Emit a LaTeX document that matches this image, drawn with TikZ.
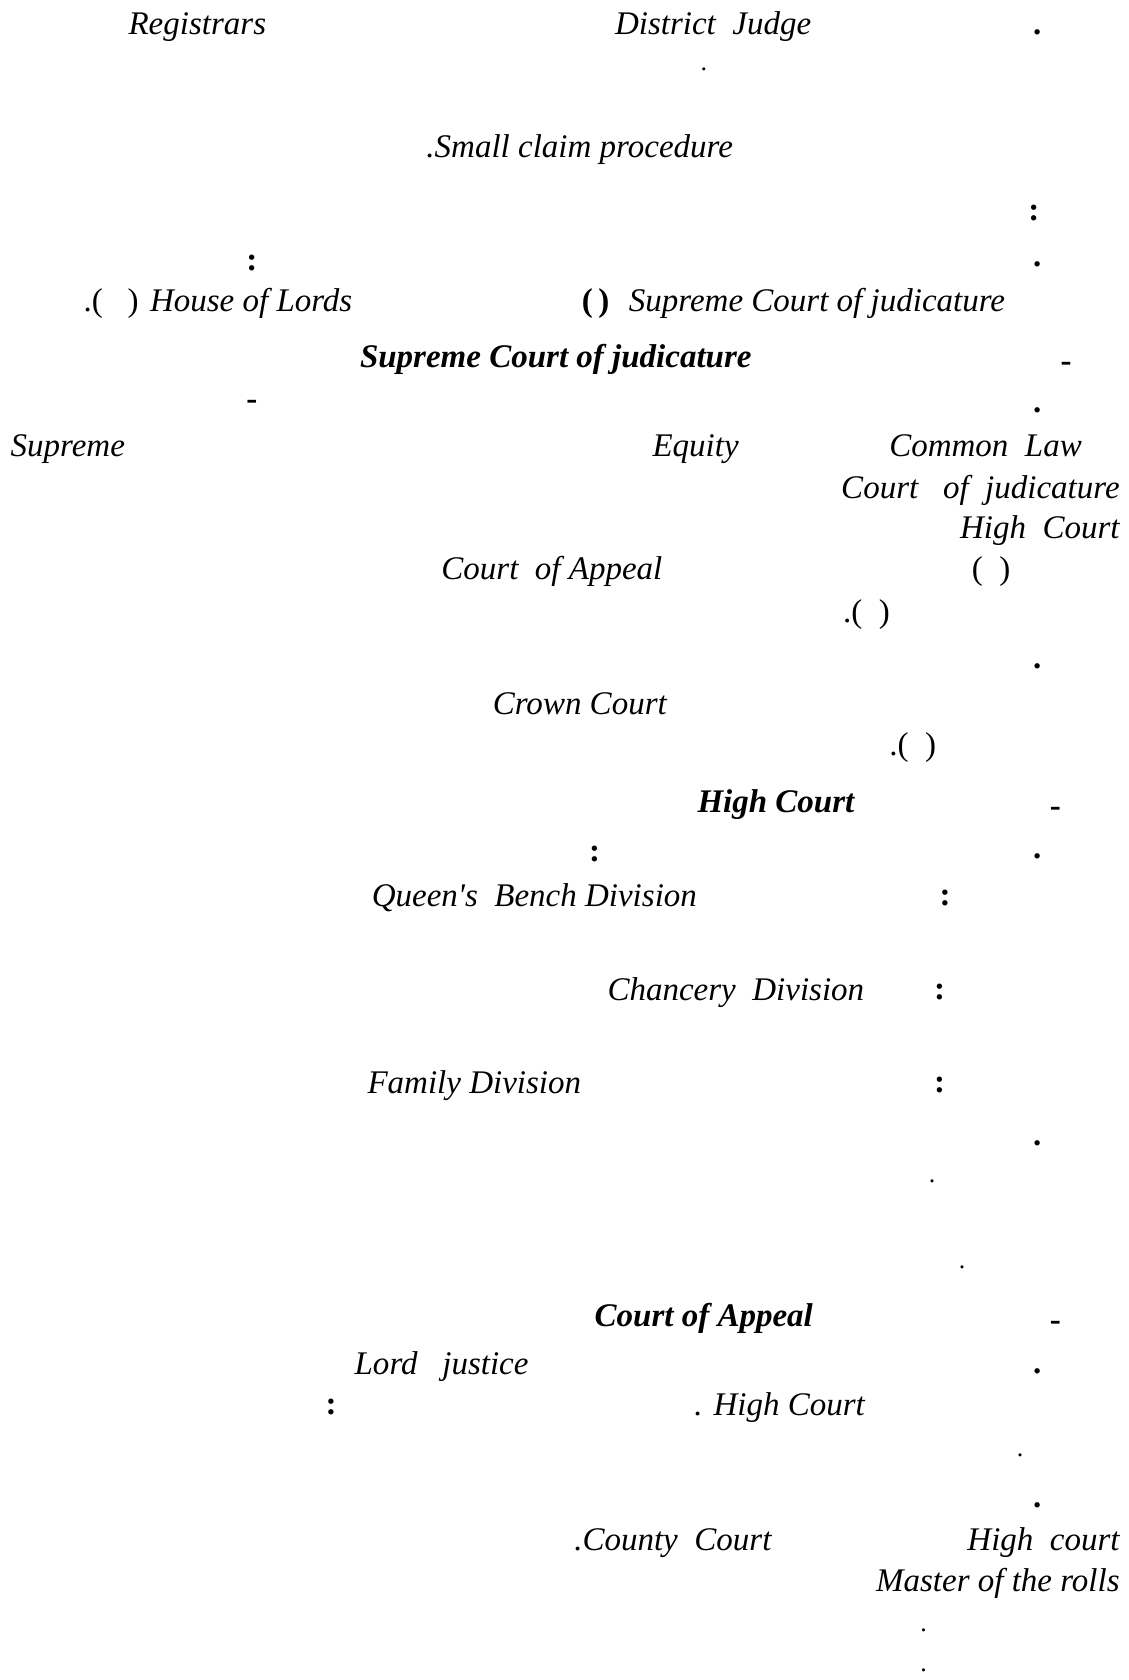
\documentclass[tikz,border=0pt]{standalone}
\usepackage{fontspec}
\setmainfont{Liberation Serif}
\newfontfamily\rawserif{Liberation Serif}
\usetikzlibrary{positioning}

\tikzstyle{base}=[inner sep=0pt,
                  outer sep=0pt,
                  font=\fontsize{16.5}{20}\selectfont]
\tikzstyle{term}=[base, anchor=base west, font=\fontsize{16.5}{20}\selectfont\itshape]
\tikzstyle{termright}=[term, anchor=base east]
\tikzstyle{heading}=[base, anchor=base west, font=\fontsize{16.5}{20}\selectfont\bfseries\itshape]
\tikzstyle{punct}=[base, anchor=base, font=\fontsize{16.5}{20}\selectfont\bfseries]
\tikzstyle{smalldot}=[base, anchor=base, font=\fontsize{13}{16}\selectfont]
\tikzstyle{bracket}=[base, anchor=base west]

\begin{document}
\begin{tikzpicture}[x=0.5356pt, y=-0.5356pt]
    \useasboundingbox (0,-2) rectangle (1053,1566);

    \node at ( 120,   30) (registrars)    [term]      {Registrars};
    \node at ( 574,   30) (district_judge)[term]      {District~~Judge};
    \node at ( 968,   30) (dot_a)         [punct]     {.};
    \node at ( 657,   64) (dot_b)         [smalldot]  {.};
    \node at ( 398,  145) (small_claim)   [term]      {.Small claim procedure};
    \node at ( 965,  204) (colon_a)       [punct]     {:};
    \node at ( 235,  250) (colon_b)       [punct]     {:};
    \node at ( 968,  247) (dot_c)         [punct]     {.};
    \node at (  78,  289) (lords_paren)   [bracket]   {.(~~~)};
    \node at ( 140,  289) (house_lords)   [term]      {House of Lords};
    \node at ( 543,  289) (sc_paren)      [bracket, font=\fontsize{16.5}{20}\selectfont\bfseries] {(\,)};
    \node at ( 587,  289) (supreme_court) [term]      {Supreme Court of judicature};

    \node at ( 336,  341) (head_supreme)  [heading]   {Supreme Court of judicature};
    \node at ( 995,  345) (dash_a)        [punct]     {-};
    \node at ( 235,  380) (dash_b)        [punct]     {-};
    \node at ( 968,  383) (dot_d)         [punct]     {.};
    \node at (  10,  424) (supreme)       [term]      {Supreme};
    \node at ( 609,  424) (equity)        [term]      {Equity};
    \node at ( 830,  424) (common_law)    [term]      {Common~~Law};
    \node at (1045,  463) (court_jud)     [termright] {Court~~~of~~judicature};
    \node at (1045,  501) (high_court_a)  [termright] {High~~Court};
    \node at ( 412,  539) (appeal_a)      [term]      {Court~~of~Appeal};
    \node at ( 907,  539) (paren_a)       [bracket]   {(~~)};
    \node at ( 787,  579) (paren_b)       [bracket]   {.(~~)};
    \node at ( 968,  622) (dot_e)         [punct]     {.};
    \node at ( 460,  665) (crown_court)   [term]      {Crown Court};
    \node at ( 830,  703) (paren_c)       [bracket]   {.(~~)};

    \node at ( 651,  756) (head_high)     [heading]   {High Court};
    \node at ( 985,  760) (dash_c)        [punct]     {-};
    \node at ( 555,  802) (colon_c)       [punct]     {:};
    \node at ( 968,  799) (dot_f)         [punct]     {.};
    \node at ( 347,  844) (queens_bench)  [term]      {Queen{\rawserif\itshape '}s~~Bench~Division};
    \node at ( 882,  843) (colon_d)       [punct]     {:};
    \node at ( 567,  932) (chancery)      [term]      {Chancery~~Division};
    \node at ( 877,  931) (colon_e)       [punct]     {:};
    \node at ( 343, 1019) (family)        [term]      {Family Division};
    \node at ( 877, 1018) (colon_f)       [punct]     {:};
    \node at ( 968, 1067) (dot_g)         [punct]     {.};
    \node at ( 870, 1102) (dot_h)         [smalldot]  {.};
    \node at ( 898, 1182) (dot_i)         [smalldot]  {.};

    \node at ( 555, 1236) (head_appeal)   [heading]   {Court of Appeal};
    \node at ( 985, 1240) (dash_d)        [punct]     {-};
    \node at ( 331, 1281) (lord_justice)  [term]      {Lord~~~justice};
    \node at ( 968, 1280) (dot_j)         [punct]     {.};
    \node at ( 309, 1318) (colon_g)       [punct]     {:};
    \node at ( 648, 1319) (high_court_b)  [term]      {. High Court};
    \node at ( 952, 1357) (dot_k)         [smalldot]  {.};
    \node at ( 968, 1405) (dot_l)         [punct]     {.};
    \node at ( 536, 1445) (county_court)  [term]      {.County~~Court};
    \node at (1045, 1445) (high_court_c)  [termright] {High~~court};
    \node at (1045, 1483) (master_rolls)  [termright] {Master of the rolls};
    \node at ( 862, 1521) (dot_m)         [smalldot]  {.};
    \node at ( 862, 1558) (dot_n)         [smalldot]  {.};
\end{tikzpicture}
\end{document}
